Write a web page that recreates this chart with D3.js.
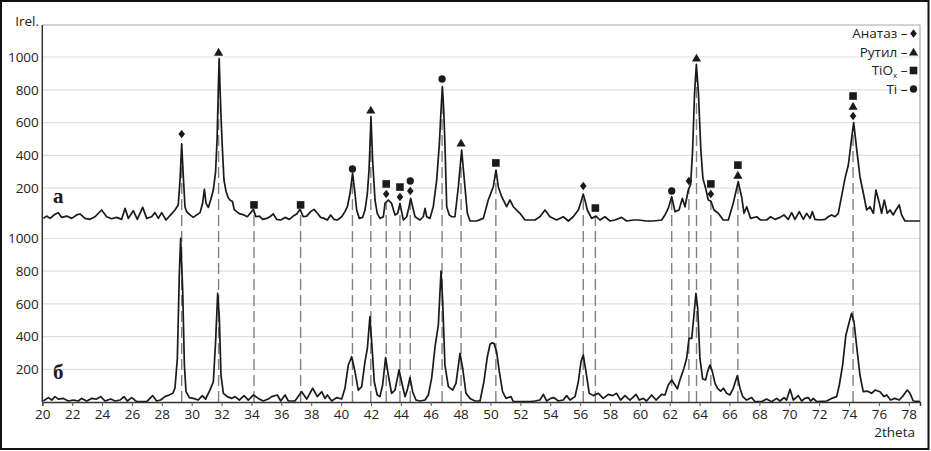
<!DOCTYPE html>
<html><head><meta charset="utf-8">
<script src="https://cdn.jsdelivr.net/npm/d3@7"></script>
<style>body{margin:0;background:#fff}svg{display:block}</style>
</head><body><svg id="c" width="931" height="451"></svg>
<script>
// 2theta, Irel for pattern "а" (upper)
const curveA = [[20.07,16],[20.29,30],[20.52,16],[20.85,41],[21.07,51],[21.30,22],[21.63,30],[21.97,16],[22.30,37],[22.52,43],[22.86,16],[23.19,10],[23.53,26],[23.97,67],[24.31,26],[24.64,14],[24.98,22],[25.31,10],[25.54,77],[25.76,16],[26.09,63],[26.36,10],[26.72,83],[26.99,16],[27.32,26],[27.54,51],[27.77,16],[27.99,51],[28.28,6],[28.59,37],[28.88,67],[29.10,98],[29.22,250],[29.33,470],[29.44,270],[29.55,87],[29.66,57],[29.89,37],[30.11,22],[30.33,37],[30.56,51],[30.73,108],[30.85,193],[30.96,108],[31.11,83],[31.27,128],[31.45,190],[31.60,300],[31.70,500],[31.78,800],[31.84,990],[31.90,800],[31.98,600],[32.05,450],[32.16,250],[32.30,180],[32.45,140],[32.60,125],[32.72,120],[32.85,70],[33.01,57],[33.23,43],[33.50,37],[33.72,26],[33.95,51],[34.13,71],[34.30,26],[34.53,30],[34.75,10],[35.02,16],[35.24,26],[35.46,43],[35.69,10],[35.95,6],[36.25,22],[36.53,10],[36.80,30],[37.03,43],[37.25,71],[37.47,26],[37.70,30],[37.96,57],[38.19,71],[38.41,47],[38.63,22],[38.86,16],[39.08,6],[39.30,37],[39.52,10],[39.75,6],[40.04,26],[40.26,57],[40.42,87],[40.60,169],[40.77,291],[40.93,169],[41.04,67],[41.22,16],[41.44,22],[41.60,67],[41.76,169],[41.87,311],[41.93,453],[42.00,636],[42.11,372],[42.27,128],[42.42,47],[42.60,16],[42.83,26],[42.94,107],[43.16,128],[43.38,107],[43.61,37],[43.79,47],[43.94,107],[44.05,57],[44.17,6],[44.39,26],[44.55,87],[44.66,138],[44.79,87],[44.95,26],[45.28,6],[45.50,26],[45.62,77],[45.73,26],[45.95,16],[46.17,87],[46.40,250],[46.58,473],[46.69,677],[46.78,820],[46.87,677],[46.95,473],[47.07,87],[47.24,37],[47.40,26],[47.62,26],[47.85,209],[48.07,433],[48.29,209],[48.45,47],[48.63,0],[49.07,0],[49.52,16],[49.85,128],[50.19,209],[50.37,311],[50.52,209],[50.75,148],[51.08,87],[51.30,128],[51.53,87],[51.97,47],[52.31,6],[52.64,6],[52.98,6],[53.31,26],[53.65,67],[53.98,26],[54.43,6],[54.87,26],[55.21,0],[55.54,26],[55.88,67],[56.06,118],[56.21,164],[56.35,118],[56.48,67],[56.77,16],[57.06,30],[57.33,6],[57.66,26],[58.00,0],[58.33,6],[58.78,22],[59.11,0],[59.56,6],[59.89,6],[60.45,0],[60.90,0],[61.46,6],[61.68,37],[61.90,77],[62.13,148],[62.35,57],[62.62,67],[62.84,138],[63.02,87],[63.24,189],[63.40,225],[63.53,433],[63.66,780],[63.78,955],[63.92,780],[64.08,433],[64.22,260],[64.40,200],[64.58,128],[64.76,120],[64.96,67],[65.25,47],[65.58,6],[65.92,6],[66.25,108],[66.58,240],[66.81,148],[66.97,47],[67.15,87],[67.41,16],[67.82,26],[68.08,6],[68.48,6],[68.75,26],[69.04,10],[69.38,22],[69.64,37],[69.93,10],[70.16,51],[70.38,10],[70.67,57],[70.94,10],[71.16,47],[71.39,16],[71.54,57],[71.72,10],[72.05,6],[72.39,10],[72.61,26],[72.83,37],[73.06,26],[73.28,47],[73.50,150],[73.73,260],[73.95,340],[74.14,480],[74.31,600],[74.51,440],[74.73,270],[74.96,169],[75.18,67],[75.40,87],[75.63,47],[75.80,189],[76.03,108],[76.18,47],[76.36,128],[76.56,47],[76.74,67],[76.96,37],[77.14,67],[77.36,98],[77.52,37],[77.74,0],[78.75,0]];

// 2theta, Irel for pattern "б" (lower)
const curveB = [[20.07,6],[20.40,27],[20.63,12],[20.85,33],[21.07,18],[21.41,22],[21.74,6],[22.08,12],[22.41,6],[22.63,22],[22.97,6],[23.30,22],[23.64,18],[23.91,33],[24.20,6],[24.58,18],[24.87,6],[25.20,12],[25.47,33],[25.69,6],[25.98,27],[26.32,2],[26.99,2],[27.39,39],[27.65,6],[27.92,12],[28.21,33],[28.50,43],[28.73,53],[28.88,84],[29.04,267],[29.17,777],[29.26,1001],[29.40,675],[29.51,226],[29.62,63],[29.84,27],[30.11,22],[30.44,12],[30.71,39],[30.93,18],[31.22,73],[31.45,124],[31.60,369],[31.74,665],[31.85,512],[31.96,165],[32.12,53],[32.38,33],[32.68,22],[32.90,33],[33.19,12],[33.50,39],[33.79,12],[34.13,43],[34.46,22],[34.79,6],[35.13,18],[35.35,33],[35.73,43],[35.96,6],[36.25,43],[36.47,6],[36.91,6],[37.36,63],[37.70,18],[38.10,84],[38.41,33],[38.70,63],[38.92,22],[39.08,43],[39.37,6],[39.70,27],[40.04,18],[40.26,84],[40.48,226],[40.71,277],[40.93,186],[41.15,73],[41.38,94],[41.60,247],[41.76,328],[41.93,522],[42.09,308],[42.22,124],[42.42,43],[42.60,33],[42.78,104],[42.98,271],[43.16,165],[43.38,53],[43.61,73],[43.88,196],[44.05,124],[44.28,33],[44.43,73],[44.61,149],[44.79,63],[45.01,12],[45.28,6],[45.62,12],[45.84,43],[46.06,145],[46.29,338],[46.51,471],[46.69,801],[46.80,614],[46.95,226],[47.18,94],[47.47,73],[47.69,114],[47.96,298],[48.14,206],[48.36,53],[48.63,22],[48.96,6],[49.30,6],[49.56,124],[49.79,277],[49.97,353],[50.10,362],[50.23,359],[50.41,308],[50.59,186],[50.81,63],[51.04,22],[51.37,33],[51.53,2],[52.64,2],[52.98,6],[53.31,12],[53.54,47],[53.76,6],[54.03,22],[54.25,27],[54.54,6],[54.87,12],[55.10,39],[55.32,12],[55.66,33],[55.88,124],[56.06,247],[56.21,288],[56.39,186],[56.61,53],[56.88,39],[57.22,53],[57.55,22],[57.89,47],[58.18,39],[58.44,53],[58.71,12],[59.00,39],[59.34,12],[59.74,47],[59.96,12],[60.23,22],[60.45,6],[60.79,43],[61.08,12],[61.46,47],[61.68,43],[61.90,104],[62.13,135],[62.35,104],[62.51,80],[62.68,135],[62.95,206],[63.13,267],[63.29,389],[63.47,389],[63.62,532],[63.75,665],[63.87,573],[64.02,267],[64.20,141],[64.40,135],[64.53,186],[64.69,226],[64.85,186],[65.03,114],[65.20,84],[65.41,67],[65.59,84],[65.81,53],[66.03,43],[66.25,84],[66.52,161],[66.70,84],[66.88,33],[67.15,12],[67.48,27],[67.70,2],[68.15,2],[68.48,18],[68.82,2],[69.15,22],[69.38,6],[69.65,27],[69.82,12],[70.05,78],[70.27,12],[70.60,39],[70.83,6],[71.05,22],[71.27,27],[71.43,6],[71.61,22],[71.83,2],[72.50,6],[72.83,22],[73.17,33],[73.35,104],[73.57,226],[73.79,410],[74.02,491],[74.17,542],[74.33,491],[74.55,308],[74.73,165],[74.95,63],[75.22,67],[75.51,53],[75.74,73],[76.07,63],[76.34,33],[76.52,43],[76.78,12],[77.07,22],[77.36,12],[77.63,39],[77.90,73],[78.08,53],[78.30,6],[78.75,2]];

const xTicks = [20,22,24,26,28,30,32,34,36,38,40,42,44,46,48,50,52,54,56,58,60,62,64,66,68,70,72,74,76,78];
const yTicks = [200,400,600,800,1000];

// phases: A = Анатаз, R = Рутил, X = TiOx, T = Ti
const legendKeys = ["A","R","X","T"];
const legendNames = ["Анатаз","Рутил","TiO","Ti"];
// identified reflections (2theta), lowest marker level (Irel of pattern а), phases bottom→top
const peakTheta  = [29.33,31.80,34.17,37.29,40.76,41.99,43.02,43.94,44.63,46.76,48.03,50.36,56.21,57.02,62.13,63.28,63.79,64.75,66.56,74.27];
const peakLevel  = [530,1030,98,98,317,677,165,146,183,866,476,354,213,79,183,244,994,165,280,640];
const peakPhases = [["A"],["R"],["X"],["X"],["T"],["R"],["A","X"],["A","X"],["A","T"],["T"],["R"],["X"],["A"],["X"],["T"],["A"],["R"],["A","X"],["R","X"],["A","R","X"]];

const svg = d3.select("#c");
const L = 42.3, R = 920, T = 25, B = 402;
const x = d3.scaleLinear().domain([20, 78.75]).range([L, R]);
const yA = d3.scaleLinear().domain([0, 1000]).range([221, 57]);
const yB = d3.scaleLinear().domain([0, 1000]).range([B, 238.5]);
const FONT = "'Open Sans', 'Noto Sans', sans-serif";

// grid
[yA, yB].forEach(s => {
  svg.append("g").selectAll("line").data(yTicks).join("line")
    .attr("x1", L).attr("x2", R).attr("y1", d => s(d)).attr("y2", d => s(d))
    .attr("stroke", "#e0e0e0").attr("stroke-width", 1.2);
});
// frame top/right
svg.append("path").attr("d", `M${L},${T}H${R}V${B}`).attr("fill", "none").attr("stroke", "#a8a8a8").attr("stroke-width", 1.2);

function valAt(data, t) {
  const i = d3.bisector(d => d[0]).left(data, t);
  if (i <= 0) return data[0][1];
  if (i >= data.length) return data[data.length - 1][1];
  const a = data[i - 1], b = data[i];
  return a[1] + (b[1] - a[1]) * (t - a[0]) / (b[0] - a[0]);
}

// dashed reference lines
svg.append("g").selectAll("line").data(peakTheta).join("line")
  .attr("x1", d => x(d)).attr("x2", d => x(d))
  .attr("y1", yB(0)).attr("y2", d => yA(valAt(curveA, d)))
  .attr("stroke", "#808080").attr("stroke-width", 1.4).attr("stroke-dasharray", "11,5");

const line = (ys) => d3.line().x(d => x(d[0])).y(d => ys(d[1]));
svg.append("path").datum(curveA).attr("d", line(yA)).attr("fill", "none").attr("stroke", "#1a1a1a").attr("stroke-width", 1.7).attr("stroke-linejoin", "round");
svg.append("path").datum(curveB).attr("d", line(yB)).attr("fill", "none").attr("stroke", "#1a1a1a").attr("stroke-width", 1.7).attr("stroke-linejoin", "round");

// marker shapes
const shapes = {
  A: "M0,-4.2L3.3,0L0,4.2L-3.3,0Z",
  R: "M0,-4.3L4.6,3.6L-4.6,3.6Z",
  X: "M-3.8,-3.8H3.8V3.8H-3.8Z",
  T: d3.symbol(d3.symbolCircle, 42)()
};
const mk = svg.append("g");
peakTheta.forEach((t, i) => {
  peakPhases[i].forEach((p, j) => {
    mk.append("path").attr("d", shapes[p])
      .attr("transform", `translate(${x(t)},${yA(peakLevel[i]) - j * 10})`)
      .attr("fill", "#1a1a1a");
  });
});

// axes
const xAxis = d3.axisBottom(x).tickValues(xTicks).tickSize(4).tickPadding(3.5).tickFormat(d3.format("d"));
const gx = svg.append("g").attr("transform", `translate(0,${B})`).call(xAxis);
gx.select(".domain").attr("stroke", "#333").attr("stroke-width", 1.5);
gx.selectAll(".tick line").attr("stroke", "#555");
gx.selectAll("text").attr("font-family", FONT).attr("font-size", 13.5).attr("fill", "#222");

[yA, yB].forEach(s => {
  const g = svg.append("g").attr("transform", `translate(${L},0)`)
    .call(d3.axisLeft(s).tickValues(yTicks).tickSize(0).tickPadding(3.5).tickFormat(d3.format("d")));
  g.select(".domain").remove();
  g.selectAll("text").attr("font-family", FONT).attr("font-size", 13.5).attr("fill", "#222");
});
svg.append("line").attr("x1", L).attr("x2", L).attr("y1", T).attr("y2", B).attr("stroke", "#333").attr("stroke-width", 1.5);

svg.append("text").attr("x", 39).attr("y", 26).attr("text-anchor", "end")
  .attr("font-family", FONT).attr("font-size", 13.5).attr("fill", "#222").text("Irel.");
svg.append("text").attr("x", 915).attr("y", 437).attr("text-anchor", "end")
  .attr("font-family", FONT).attr("font-size", 13.5).attr("fill", "#222").text("2theta");

svg.append("text").attr("x", 53).attr("y", 203).attr("font-family", "'Liberation Serif', serif")
  .attr("font-weight", "bold").attr("font-size", 21).attr("fill", "#1a1a1a").text("а");
svg.append("text").attr("x", 53).attr("y", 379).attr("font-family", "'Liberation Serif', serif")
  .attr("font-weight", "bold").attr("font-size", 21).attr("fill", "#1a1a1a").text("б");

// legend
const lg = svg.append("g");
legendKeys.forEach((k, i) => {
  const yb = 38 + i * 18.5;
  const t = lg.append("text").attr("x", 907.5).attr("y", yb).attr("text-anchor", "end")
    .attr("font-family", FONT).attr("font-size", 13.5).attr("fill", "#222");
  t.append("tspan").text(legendNames[i]);
  if (k === "X") {
    t.append("tspan").attr("font-size", 8).attr("dy", 3).text("x");
    t.append("tspan").attr("dy", -3).text(" –");
  } else {
    t.append("tspan").text(" –");
  }
  lg.append("path").attr("d", shapes[k]).attr("transform", `translate(913.5,${yb - 4.5})`).attr("fill", "#1a1a1a");
});

// outer border
svg.append("rect").attr("x", 1).attr("y", 1).attr("width", 927.5).attr("height", 448)
  .attr("fill", "none").attr("stroke", "#111").attr("stroke-width", 2);
</script></body></html>
